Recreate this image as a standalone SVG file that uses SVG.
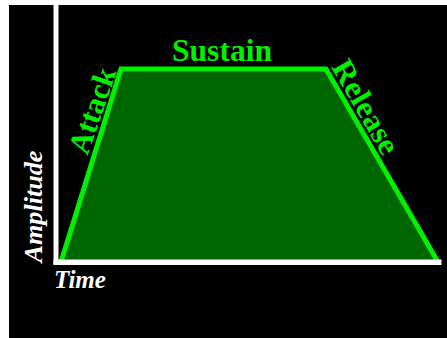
<svg xmlns="http://www.w3.org/2000/svg" width="447" height="338" viewBox="0 0 447 338">
<style>
.g{font-family:"Liberation Serif","Times New Roman",serif;font-weight:bold;fill:#00f000;font-size:31px}
.w{font-family:"Liberation Serif","Times New Roman",serif;font-weight:bold;font-style:italic;fill:#ffffff;font-size:25px}
</style>
<rect x="0" y="0" width="447" height="338" fill="#ffffff"/>
<rect x="9" y="5" width="438" height="333" fill="#000000"/>
<g id="envelope">
<polygon points="61,262 121,69 326,69 438,262" fill="#006600"/>
<polyline points="61,262 121,69 326,69 438,262" fill="none" stroke="#00f000" stroke-width="5" stroke-linejoin="miter"/>
</g>
<g id="axes" fill="#ffffff">
<rect x="53.5" y="5" width="5" height="260"/>
<rect x="53.5" y="259.5" width="388" height="5.5"/>
</g>
<g id="labels">
<text class="g" x="222" y="61" text-anchor="middle" textLength="100" lengthAdjust="spacingAndGlyphs">Sustain</text>
<text class="g" transform="translate(102,114) rotate(-71)" text-anchor="middle" textLength="89" lengthAdjust="spacingAndGlyphs">Attack</text>
<text class="g" transform="translate(357,112) rotate(60)" text-anchor="middle" textLength="104" lengthAdjust="spacingAndGlyphs">Release</text>
<text class="w" transform="translate(42,206.5) rotate(-90)" text-anchor="middle" textLength="112" lengthAdjust="spacingAndGlyphs">Amplitude</text>
<text class="w" x="54" y="288" textLength="52" lengthAdjust="spacingAndGlyphs">Time</text>
</g>
</svg>
